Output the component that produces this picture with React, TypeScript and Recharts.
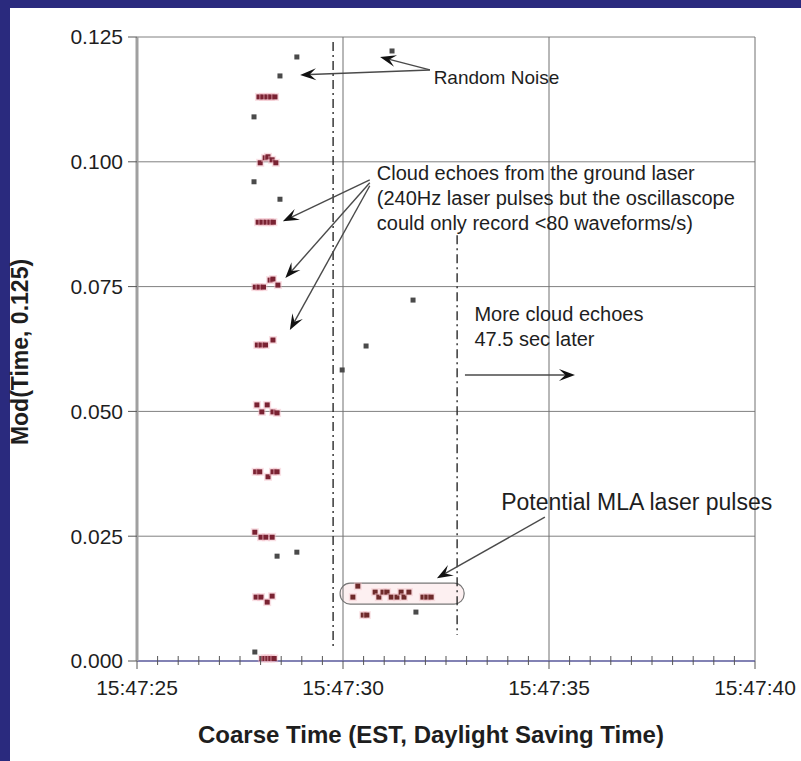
import {
  ScatterChart,
  Scatter,
  XAxis,
  YAxis,
  CartesianGrid,
  ReferenceLine,
  ReferenceArea,
  ReferenceDot,
} from 'recharts'

// t = seconds after 15:47:00, v = Mod(Time, 0.125)
const cloudEchoes = [
  { t: 27.96, v: 0.113 }, { t: 28.06, v: 0.113 }, { t: 28.16, v: 0.113 }, { t: 28.25, v: 0.113 }, { t: 28.35, v: 0.113 },
  { t: 27.99, v: 0.0998 }, { t: 28.11, v: 0.1008 }, { t: 28.18, v: 0.101 }, { t: 28.28, v: 0.1004 }, { t: 28.37, v: 0.0998 },
  { t: 27.94, v: 0.0879 }, { t: 28.04, v: 0.0879 }, { t: 28.14, v: 0.0879 }, { t: 28.23, v: 0.0879 }, { t: 28.31, v: 0.0879 },
  { t: 27.87, v: 0.0749 }, { t: 27.97, v: 0.0749 }, { t: 28.07, v: 0.0749 }, { t: 28.23, v: 0.0763 }, { t: 28.3, v: 0.0765 }, { t: 28.42, v: 0.0753 },
  { t: 27.92, v: 0.0633 }, { t: 28.02, v: 0.0633 }, { t: 28.12, v: 0.0633 }, { t: 28.3, v: 0.0643 },
  { t: 27.91, v: 0.0513 }, { t: 28.03, v: 0.0499 }, { t: 28.16, v: 0.0513 }, { t: 28.3, v: 0.0499 }, { t: 28.4, v: 0.0497 },
  { t: 27.88, v: 0.0379 }, { t: 27.98, v: 0.0379 }, { t: 28.18, v: 0.0369 }, { t: 28.3, v: 0.0379 }, { t: 28.4, v: 0.0379 },
  { t: 27.86, v: 0.0258 }, { t: 28.01, v: 0.0248 }, { t: 28.13, v: 0.0248 }, { t: 28.28, v: 0.0248 },
  { t: 27.89, v: 0.0128 }, { t: 28.01, v: 0.0128 }, { t: 28.16, v: 0.0118 }, { t: 28.28, v: 0.013 },
  { t: 28.03, v: 0.0005 }, { t: 28.11, v: 0.0005 }, { t: 28.18, v: 0.0005 }, { t: 28.25, v: 0.0005 }, { t: 28.33, v: 0.0005 },
]

const randomNoise = [
  { t: 27.84, v: 0.109 }, { t: 28.47, v: 0.1172 }, { t: 28.88, v: 0.121 }, { t: 27.84, v: 0.096 },
  { t: 28.47, v: 0.0925 }, { t: 31.19, v: 0.1222 }, { t: 31.7, v: 0.0723 }, { t: 30.56, v: 0.0631 },
  { t: 29.98, v: 0.0583 }, { t: 28.4, v: 0.021 }, { t: 28.88, v: 0.0218 }, { t: 27.86, v: 0.0018 },
  { t: 31.77, v: 0.0098 },
]

const mlaPulses = [
  { t: 30.24, v: 0.0128 }, { t: 30.36, v: 0.015 }, { t: 30.78, v: 0.0138 }, { t: 30.87, v: 0.0128 },
  { t: 30.97, v: 0.0138 }, { t: 31.07, v: 0.0138 }, { t: 31.17, v: 0.0128 }, { t: 31.31, v: 0.0128 },
  { t: 31.41, v: 0.0138 }, { t: 31.48, v: 0.0128 }, { t: 31.6, v: 0.0138 }, { t: 31.94, v: 0.0128 },
  { t: 32.04, v: 0.0128 }, { t: 32.14, v: 0.0128 }, { t: 30.49, v: 0.0092 }, { t: 30.58, v: 0.0092 },
]

const majorTicks = [25, 30, 35, 40]
const minorTicks = Array.from({ length: 31 }, (_, i) => 25 + i * 0.5)
const yTicks = [0, 0.025, 0.05, 0.075, 0.1, 0.125]

const FONT = '"Liberation Sans", Arial, sans-serif'
const INK = '#1e1e1e'

const square = (color: string, halo?: string) => (p: any) => (
  <g>
    {halo && <rect x={p.cx - 4} y={p.cy - 4} width={8} height={8} fill={halo} opacity={0.45} />}
    <rect x={p.cx - 2.5} y={p.cy - 2.5} width={5} height={5} fill={color} />
  </g>
)

const BottomTick = ({ x, y, payload }: any) => {
  const major = majorTicks.includes(payload.value)
  return (
    <g>
      <line x1={x} x2={x} y1={major ? y : y - 5} y2={major ? y + 8 : y + 4} stroke="#555" />
      {major && (
        <text x={x} y={y + 34} textAnchor="middle" fontSize={21} fill={INK} fontFamily={FONT}>
          {`15:47:${payload.value}`}
        </text>
      )}
    </g>
  )
}

const TopTick = ({ x, y, payload }: any) => {
  const major = majorTicks.includes(payload.value)
  return <line x1={x} x2={x} y1={major ? y - 8 : y} y2={major ? y : y + 6} stroke="#555" />
}

const Arrow = (p: any) => {
  const { x1, y1, x2, y2 } = p
  const a = Math.atan2(y2 - y1, x2 - x1)
  const L = 16
  const W = 6
  const bx = x2 - L * Math.cos(a)
  const by = y2 - L * Math.sin(a)
  const nx = x2 - L * 0.6 * Math.cos(a)
  const ny = y2 - L * 0.6 * Math.sin(a)
  const px = -Math.sin(a) * W
  const py = Math.cos(a) * W
  return (
    <g>
      <line x1={x1} y1={y1} x2={nx} y2={ny} stroke="#4a4a4a" strokeWidth={1.4} />
      <polygon
        points={`${x2},${y2} ${bx + px},${by + py} ${nx},${ny} ${bx - px},${by - py}`}
        fill="#111"
      />
    </g>
  )
}

const note = (lines: string[], size: number, lead: number) => (p: any) => (
  <text x={p.cx} y={p.cy} fontSize={size} fill={INK} fontFamily={FONT}>
    {lines.map((s, i) => (
      <tspan key={i} x={p.cx} dy={i === 0 ? 0 : lead}>
        {s}
      </tspan>
    ))}
  </text>
)

const MlaBox = (p: any) => (
  <rect x={p.x} y={p.y} width={p.width} height={p.height} rx={10} ry={10} fill="#fdf0f1" stroke="#777" strokeWidth={1.2} />
)

export default function App() {
  return (
    <div style={{ position: 'absolute', left: 0, top: 0, width: 801, height: 761, background: '#2a2a7e', overflow: 'hidden' }}>
      <div style={{ position: 'absolute', left: 10, top: 8, right: 0, bottom: 0, background: '#fff' }} />
      <div style={{ position: 'absolute', left: 0, top: 0 }}>
        <ScatterChart width={801} height={761} margin={{ top: 37, right: 46, bottom: 10, left: 57 }}>
          <CartesianGrid vertical={false} stroke="#808080" strokeWidth={1} />
          <ReferenceArea x1={29.93} x2={32.94} y1={0.0114} y2={0.0156} shape={MlaBox} />
          {majorTicks.slice(1).map((t) => (
            <ReferenceLine key={t} x={t} stroke="#707070" strokeWidth={1} />
          ))}
          <ReferenceLine segment={[{ x: 29.76, y: 0.124 }, { x: 29.76, y: 0.003 }]} stroke="#2a2a2a" strokeWidth={1.4} strokeDasharray="9 4 2 4" />
          <ReferenceLine segment={[{ x: 32.77, y: 0.0853 }, { x: 32.77, y: 0.0052 }]} stroke="#2a2a2a" strokeWidth={1.4} strokeDasharray="9 4 2 4" />
          <XAxis
            dataKey="t"
            type="number"
            domain={[25, 40]}
            ticks={minorTicks}
            interval={0}
            height={90}
            tickSize={0}
            tickMargin={0}
            tickLine={false}
            tick={<BottomTick />}
            axisLine={{ stroke: '#6e6eb0', strokeWidth: 1.5 }}
            label={{
              content: ({ viewBox }: any) => (
                <text x={viewBox.x + viewBox.width / 2 - 15} y={743} textAnchor="middle" fontSize={24} fontWeight="bold" fill={INK} fontFamily={FONT}>
                  Coarse Time (EST, Daylight Saving Time)
                </text>
              ),
            }}
          />
          <XAxis
            xAxisId="top"
            orientation="top"
            type="number"
            domain={[25, 40]}
            ticks={minorTicks}
            interval={0}
            height={0}
            tickSize={0}
            tickMargin={0}
            tickLine={false}
            tick={<TopTick />}
            axisLine={false}
          />
          <YAxis
            dataKey="v"
            type="number"
            domain={[0, 0.125]}
            ticks={yTicks}
            interval={0}
            width={80}
            tickSize={9}
            tickMargin={5}
            tickFormatter={(v: number) => v.toFixed(3)}
            tick={{ fontSize: 21, fill: INK, fontFamily: FONT }}
            tickLine={{ stroke: '#555' }}
            axisLine={{ stroke: '#a0a0a0', strokeWidth: 3 }}
            label={{
              content: () => (
                <text x={20} y={352} transform="rotate(-90 20 352)" textAnchor="middle" dominantBaseline="central" fontSize={23} fontWeight="bold" fill={INK} fontFamily={FONT}>
                  Mod(Time, 0.125)
                </text>
              ),
            }}
          />
          <Scatter data={randomNoise} shape={square('#4a4a4a')} isAnimationActive={false} />
          <Scatter data={cloudEchoes} shape={square('#7a2232', '#f2b8c4')} isAnimationActive={false} />
          <Scatter data={mlaPulses} shape={square('#6e2a2a', '#f2c0c8')} isAnimationActive={false} />

          <ReferenceLine segment={[{ x: 32.11, y: 0.1184 }, { x: 30.9, y: 0.121 }]} shape={Arrow} />
          <ReferenceLine segment={[{ x: 32.11, y: 0.1184 }, { x: 28.96, y: 0.1174 }]} shape={Arrow} />
          <ReferenceLine segment={[{ x: 30.65, y: 0.0964 }, { x: 28.54, y: 0.0881 }]} shape={Arrow} />
          <ReferenceLine segment={[{ x: 30.65, y: 0.0958 }, { x: 28.6, y: 0.0767 }]} shape={Arrow} />
          <ReferenceLine segment={[{ x: 30.65, y: 0.0952 }, { x: 28.71, y: 0.0663 }]} shape={Arrow} />
          <ReferenceLine segment={[{ x: 32.96, y: 0.0573 }, { x: 35.63, y: 0.0573 }]} shape={Arrow} />
          <ReferenceLine segment={[{ x: 34.9, y: 0.0288 }, { x: 32.28, y: 0.0166 }]} shape={Arrow} />

          <ReferenceDot x={32.2} y={0.1155} r={0} shape={note(['Random Noise'], 19, 0)} />
          <ReferenceDot x={30.82} y={0.0963} r={0} shape={note(['Cloud echoes from the ground laser', '(240Hz laser pulses but the oscillascope', 'could only record <80 waveforms/s)'], 20, 25)} />
          <ReferenceDot x={33.19} y={0.0681} r={0} shape={note(['More cloud echoes', '47.5 sec later'], 20, 25)} />
          <ReferenceDot x={33.84} y={0.0303} r={0} shape={note(['Potential MLA laser pulses'], 23, 0)} />
        </ScatterChart>
      </div>
    </div>
  )
}
